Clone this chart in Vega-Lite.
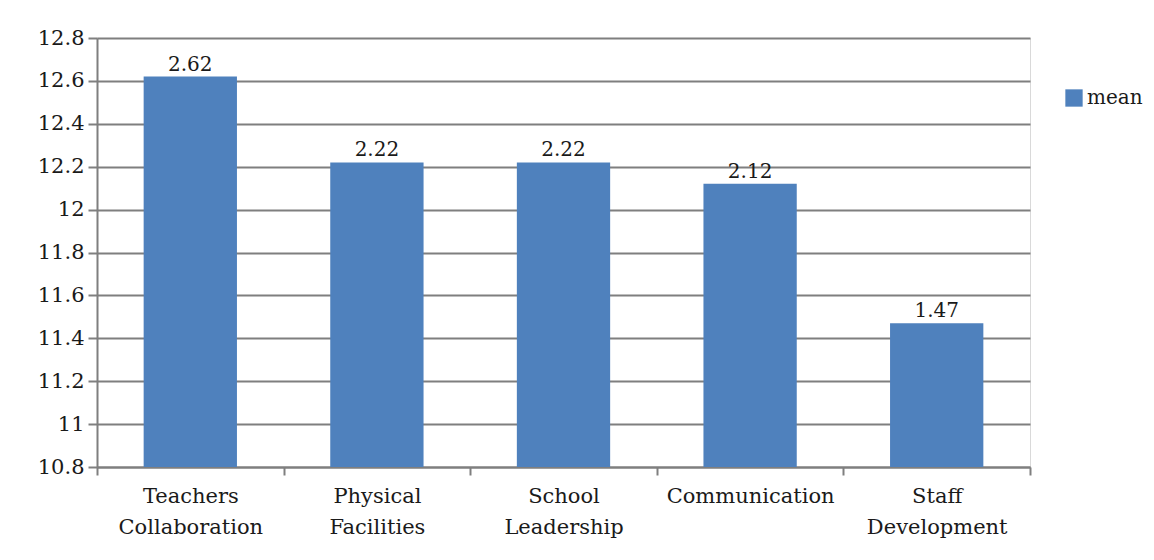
{
  "$schema": "https://vega.github.io/schema/vega-lite/v6.json",
  "autosize": "none",
  "width": 933,
  "height": 429,
  "padding": {"left": 97, "top": 38, "right": 124, "bottom": 93},
  "background": "white",
  "config": {
    "view": {"stroke": "#d9d9d9", "strokeWidth": 1},
    "font": "DejaVu Serif"
  },
  "data": {
    "values": [
      {"factor": "Teachers Collaboration", "mean": 12.62, "label": "2.62", "series": "mean"},
      {"factor": "Physical Facilities", "mean": 12.22, "label": "2.22", "series": "mean"},
      {"factor": "School Leadership", "mean": 12.22, "label": "2.22", "series": "mean"},
      {"factor": "Communication", "mean": 12.12, "label": "2.12", "series": "mean"},
      {"factor": "Staff Development", "mean": 11.47, "label": "1.47", "series": "mean"}
    ]
  },
  "encoding": {
    "x": {
      "field": "factor",
      "type": "nominal",
      "sort": null,
      "scale": {"paddingInner": 0, "paddingOuter": 0},
      "axis": {
        "title": null,
        "labelAngle": 0,
        "labelExpr": "split(datum.label, ' ')",
        "labelFont": "DejaVu Serif",
        "labelFontSize": 21,
        "labelColor": "#1a1a1a",
        "labelLineHeight": 31,
        "labelPadding": 10,
        "tickBand": "extent",
        "tickSize": 8,
        "tickWidth": 2,
        "tickColor": "#7f7f7f",
        "domainColor": "#7f7f7f",
        "domainWidth": 2,
        "grid": false
      }
    },
    "y": {
      "field": "mean",
      "type": "quantitative",
      "scale": {"domain": [10.8, 12.8], "zero": false, "nice": false},
      "axis": {
        "title": null,
        "values": [10.8, 11, 11.2, 11.4, 11.6, 11.8, 12, 12.2, 12.4, 12.6, 12.8],
        "format": "~g",
        "labelFont": "DejaVu Serif",
        "labelFontSize": 21,
        "labelColor": "#1a1a1a",
        "labelPadding": 4,
        "tickSize": 9,
        "tickWidth": 2,
        "tickColor": "#7f7f7f",
        "domainColor": "#7f7f7f",
        "domainWidth": 2,
        "grid": true,
        "gridColor": "#7f7f7f",
        "gridWidth": 2
      }
    }
  },
  "layer": [
    {
      "mark": {"type": "bar", "clip": true, "width": {"band": 0.5}},
      "encoding": {
        "y2": {"datum": 10.8},
        "color": {
          "field": "series",
          "type": "nominal",
          "scale": {"range": ["#4f81bd"]},
          "legend": {
            "title": null,
            "orient": "none",
            "legendX": 967,
            "legendY": 50,
            "symbolType": "square",
            "symbolSize": 300,
            "symbolStrokeWidth": 0,
            "labelFont": "DejaVu Serif",
            "labelFontSize": 20,
            "labelColor": "#1a1a1a",
            "labelOffset": 3
          }
        }
      }
    },
    {
      "mark": {"type": "text", "baseline": "bottom", "dy": -2, "fontSize": 20, "font": "DejaVu Serif", "color": "#1a1a1a"},
      "encoding": {"text": {"field": "label"}}
    }
  ]
}
